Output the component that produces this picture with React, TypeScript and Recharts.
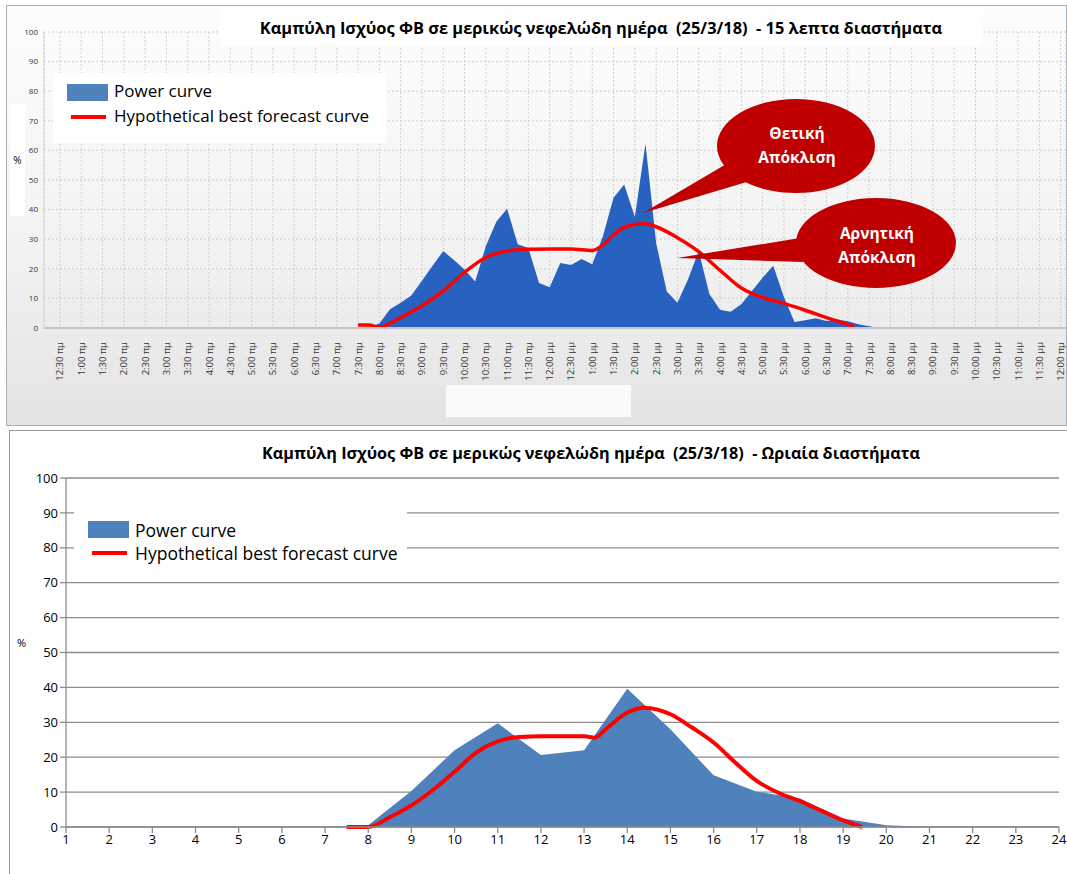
import React from "react";
import { Area, CartesianGrid, ComposedChart, Line, XAxis, YAxis } from "recharts";

const FONT = "'Open Sans', 'DejaVu Sans', sans-serif";

const TITLE_QUARTER = "Καμπύλη Ισχύος ΦΒ σε μερικώς νεφελώδη ημέρα  (25/3/18)  - 15 λεπτα διαστήματα";
const TITLE_HOURLY = "Καμπύλη Ισχύος ΦΒ σε μερικώς νεφελώδη ημέρα  (25/3/18)  - Ωριαία διαστήματα";
const POWER_NAME = "Power curve";
const FORECAST_NAME = "Hypothetical best forecast curve";
const POSITIVE_LINES = ["Θετική", "Απόκλιση"];
const NEGATIVE_LINES = ["Αρνητική", "Απόκλιση"];

// 15 minute chart (time in hours)
const quarterTimes = [
  7.5, 7.75, 8, 8.25, 8.5, 8.75, 9, 9.25, 9.5, 9.75, 10, 10.25, 10.5, 10.75, 11, 11.25, 11.5, 11.75,
  12, 12.25, 12.5, 12.75, 13, 13.25, 13.5, 13.75, 14, 14.25, 14.5, 14.75, 15, 15.25, 15.5, 15.75,
  16, 16.25, 16.5, 16.75, 17, 17.25, 17.5, 17.75, 18, 18.25, 18.5, 18.75, 19, 19.25, 19.5, 19.75,
];
const quarterPower = [
  0, 0.3, 1.5, 6.3, 8.5, 11, 16, 21, 26, 23, 19.8, 15.7, 27.6, 36, 40.3, 28.3, 27, 15.2,
  13.8, 22, 21.3, 23.3, 21.5, 31, 44, 48.5, 37.5, 62.3, 28.7, 12.3, 8.5, 16.5, 26, 11.5,
  6.2, 5.5, 8, 12.5, 17, 21, 10.5, 2, 2.6, 3.3, 2.4, 2.9, 2.3, 1.3, 0.6, 0,
];
const quarterForecastTimes = [
  7.5, 7.75, 8, 8.5, 9, 9.5, 10, 10.5, 11, 11.5, 12, 12.5, 13, 13.25, 13.5, 13.75, 14, 14.25,
  14.5, 15, 15.5, 16, 16.5, 17, 17.5, 18, 18.5, 19, 19.15,
];
const quarterForecast = [
  1, 1, 0.3, 3.5, 7.5, 12.5, 18.8, 23.8, 26, 26.6, 26.7, 26.7, 26.2, 28, 31.5, 34, 35, 35.2,
  34.2, 30.5, 25.8, 19.5, 13.5, 10.3, 8.3, 6, 3.5, 1.2, 0.5,
];
const halfHourLabels = [
  "12:30 πμ", "1:00 πμ", "1:30 πμ", "2:00 πμ", "2:30 πμ", "3:00 πμ", "3:30 πμ", "4:00 πμ",
  "4:30 πμ", "5:00 πμ", "5:30 πμ", "6:00 πμ", "6:30 πμ", "7:00 πμ", "7:30 πμ", "8:00 πμ",
  "8:30 πμ", "9:00 πμ", "9:30 πμ", "10:00 πμ", "10:30 πμ", "11:00 πμ", "11:30 πμ", "12:00 μμ",
  "12:30 μμ", "1:00 μμ", "1:30 μμ", "2:00 μμ", "2:30 μμ", "3:00 μμ", "3:30 μμ", "4:00 μμ",
  "4:30 μμ", "5:00 μμ", "5:30 μμ", "6:00 μμ", "6:30 μμ", "7:00 μμ", "7:30 μμ", "8:00 μμ",
  "8:30 μμ", "9:00 μμ", "9:30 μμ", "10:00 μμ", "10:30 μμ", "11:00 μμ", "11:30 μμ", "12:00 πμ",
];
const halfHourTicks = halfHourLabels.map((_, i) => (i + 1) * 0.5);

// hourly chart
const hours = [7, 8, 9, 10, 11, 12, 13, 14, 15, 16, 17, 18, 19, 20, 21];
const hourlyPower = [0, 0.5, 10.3, 22, 29.7, 20.6, 22, 39.6, 28, 14.8, 10.1, 8.2, 2.4, 0.5, 0];
const hourlyForecastTimes = [
  7.5, 7.75, 8, 8.5, 9, 9.5, 10, 10.5, 11, 11.5, 12, 12.5, 13, 13.25, 13.5, 14, 14.4, 15, 15.5,
  16, 16.5, 17, 17.5, 18, 18.5, 19, 19.44,
];
const hourlyForecast = [
  0, 0, 0, 2.8, 6.2, 10.6, 15.8, 21.3, 24.5, 25.8, 26, 26, 26, 25.6, 28, 32.8, 34.2, 32.3, 28.5,
  24.2, 18.5, 13.2, 9.8, 7.4, 4.6, 1.9, 0,
];
const hourTicks = [1, 2, 3, 4, 5, 6, 7, 8, 9, 10, 11, 12, 13, 14, 15, 16, 17, 18, 19, 20, 21, 22, 23, 24];
const percentTicks = [0, 10, 20, 30, 40, 50, 60, 70, 80, 90, 100];

type Row = { t: number; power?: number; forecast?: number };

function mergeRows(pt: number[], pv: number[], ft: number[], fv: number[]): Row[] {
  const map = new Map<number, Row>();
  pt.forEach((t, i) => map.set(t, { ...(map.get(t) || { t }), power: pv[i] }));
  ft.forEach((t, i) => map.set(t, { ...(map.get(t) || { t }), forecast: fv[i] }));
  return [...map.values()].sort((a, b) => a.t - b.t);
}

const quarterRows = mergeRows(quarterTimes, quarterPower, quarterForecastTimes, quarterForecast);
const hourlyRows = mergeRows(hours, hourlyPower, hourlyForecastTimes, hourlyForecast);

const RotatedTick = (props: any) => {
  const { x, y, payload } = props;
  const label = halfHourLabels[Math.round(payload.value * 2) - 1];
  return (
    <g transform={`translate(${x},${y + 6}) rotate(-90)`}>
      <text textAnchor="end" dy={3.5} fontSize={9.5} fill="#333" fontFamily={FONT}>
        {label}
      </text>
    </g>
  );
};

const LegendBox = ({ left, top, height, swatchTop, lineTop, textTop1, textTop2, size }: any) => (
  <div
    style={{
      position: "absolute",
      left,
      top,
      width: 333,
      height,
      background: "#fff",
      fontFamily: FONT,
      color: "#000",
    }}
  >
    <div style={{ position: "absolute", left: 14, top: swatchTop, width: 41, height: 17, background: "#4f81bd" }} />
    <div style={{ position: "absolute", left: 61, top: textTop1, fontSize: size, lineHeight: "20px", whiteSpace: "nowrap" }}>
      {POWER_NAME}
    </div>
    <div style={{ position: "absolute", left: 18, top: lineTop, width: 35, height: 4, background: "#ff0000" }} />
    <div style={{ position: "absolute", left: 61, top: textTop2, fontSize: size, lineHeight: "20px", whiteSpace: "nowrap" }}>
      {FORECAST_NAME}
    </div>
  </div>
);

function QuarterChart() {
  return (
    <div style={{ position: "absolute", left: 0, top: 0, width: 1067, height: 430 }}>
      <div
        style={{
          position: "absolute",
          left: 6,
          top: 5,
          width: 1059,
          height: 419,
          border: "1px solid #a7afb8",
          background: "linear-gradient(#fdfdfd, #f2f2f2 60%, #e3e3e3)",
        }}
      />
      <div style={{ position: "absolute", left: 0, top: 0 }}>
        <ComposedChart width={1067} height={430} data={quarterRows} margin={{ top: 32, right: 1, bottom: 52, left: 0 }}>
          <CartesianGrid stroke="#cfcfcf" strokeDasharray="2 2" />
          <XAxis
            dataKey="t"
            type="number"
            domain={[0.125, 24.125]}
            ticks={halfHourTicks}
            interval={0}
            tick={<RotatedTick />}
            tickLine={false}
            height={50}
            axisLine={{ stroke: "#c4c4c4", strokeWidth: 2 }}
          />
          <YAxis
            type="number"
            domain={[0, 100]}
            ticks={percentTicks}
            width={44}
            tickLine={false}
            tickSize={4}
            axisLine={{ stroke: "#d6d6d6" }}
            tick={{ fontSize: 8, fill: "#333", fontFamily: FONT }}
          />
          <Area
            dataKey="power"
            name={POWER_NAME}
            type="linear"
            fill="#2862c0"
            fillOpacity={1}
            stroke="none"
            connectNulls
            isAnimationActive={false}
          />
          <Line
            dataKey="forecast"
            name={FORECAST_NAME}
            type="monotone"
            stroke="#ff0000"
            strokeWidth={3.5}
            dot={false}
            connectNulls
            isAnimationActive={false}
          />
        </ComposedChart>
      </div>
      <LegendBox left={53} top={73} height={70} swatchTop={11} lineTop={42} textTop1={8} textTop2={33} size={17} />
      <div
        style={{
          position: "absolute",
          left: 220,
          top: 10,
          width: 762,
          height: 36,
          background: "#fff",
          fontFamily: FONT,
          fontWeight: 700,
          fontSize: 16.4,
          lineHeight: "36px",
          textAlign: "center",
          whiteSpace: "pre",
          color: "#000",
        }}
      >
        {TITLE_QUARTER}
      </div>
      <div
        style={{
          position: "absolute",
          left: 10,
          top: 104,
          width: 15,
          height: 112,
          background: "#fff",
          fontFamily: FONT,
          fontSize: 10,
          lineHeight: "112px",
          textAlign: "center",
        }}
      >
        %
      </div>
      <div style={{ position: "absolute", left: 446, top: 385, width: 185, height: 32, background: "#fafafa" }} />
      <svg width={1067} height={430} style={{ position: "absolute", left: 0, top: 0 }}>
        <polygon points="728,163 750,181 643,213" fill="#c00000" />
        <ellipse cx={796} cy={146} rx={79} ry={47} fill="#c00000" />
        <text x={797} y={139} textAnchor="middle" fill="#fff" fontFamily={FONT} fontWeight={700} fontSize={15.5}>
          {POSITIVE_LINES[0]}
        </text>
        <text x={797} y={163} textAnchor="middle" fill="#fff" fontFamily={FONT} fontWeight={700} fontSize={15.5}>
          {POSITIVE_LINES[1]}
        </text>
        <polygon points="800,238 803,262 677,258" fill="#c00000" />
        <ellipse cx={876} cy={243} rx={80} ry={45} fill="#c00000" />
        <text x={877} y={239} textAnchor="middle" fill="#fff" fontFamily={FONT} fontWeight={700} fontSize={15.5}>
          {NEGATIVE_LINES[0]}
        </text>
        <text x={877} y={263} textAnchor="middle" fill="#fff" fontFamily={FONT} fontWeight={700} fontSize={15.5}>
          {NEGATIVE_LINES[1]}
        </text>
      </svg>
    </div>
  );
}

function HourlyChart() {
  return (
    <div style={{ position: "absolute", left: 0, top: 430, width: 1067, height: 444 }}>
      <div
        style={{
          position: "absolute",
          left: 9,
          top: 0,
          width: 1070,
          height: 460,
          borderLeft: "1.5px solid #9a9a9a",
          borderTop: "1.5px solid #9a9a9a",
          background: "#fff",
        }}
      />
      <div style={{ position: "absolute", left: 0, top: 0 }}>
        <ComposedChart width={1067} height={444} data={hourlyRows} margin={{ top: 48, right: 8, bottom: 17, left: 0 }}>
          <CartesianGrid stroke="#8c8c8c" strokeWidth={1.3} vertical={false} />
          <XAxis
            dataKey="t"
            type="number"
            domain={[1, 24]}
            ticks={hourTicks}
            interval={0}
            height={30}
            tickSize={6}
            tickLine={{ stroke: "#8c8c8c", strokeWidth: 1.3 }}
            axisLine={{ stroke: "#8c8c8c", strokeWidth: 1.3 }}
            tick={{ fontSize: 13, fill: "#000", fontFamily: FONT }}
          />
          <YAxis
            type="number"
            domain={[0, 100]}
            ticks={percentTicks}
            width={66}
            tickSize={6}
            tickLine={{ stroke: "#8c8c8c", strokeWidth: 1.3 }}
            axisLine={{ stroke: "#8c8c8c", strokeWidth: 1.3 }}
            tick={{ fontSize: 13, fill: "#000", fontFamily: FONT }}
          />
          <Area
            dataKey="power"
            name={POWER_NAME}
            type="linear"
            fill="#4f81bd"
            fillOpacity={1}
            stroke="none"
            connectNulls
            isAnimationActive={false}
          />
          <Line
            dataKey="forecast"
            name={FORECAST_NAME}
            type="monotone"
            stroke="#ff0000"
            strokeWidth={4}
            dot={false}
            connectNulls
            isAnimationActive={false}
          />
        </ComposedChart>
      </div>
      <LegendBox left={74} top={75} height={67} swatchTop={16} lineTop={46} textTop1={15} textTop2={38} size={17.5} />
      <div
        style={{
          position: "absolute",
          left: 150,
          top: 11,
          width: 882,
          height: 24,
          fontFamily: FONT,
          fontWeight: 700,
          fontSize: 16.2,
          lineHeight: "24px",
          textAlign: "center",
          whiteSpace: "pre",
          color: "#000",
        }}
      >
        {TITLE_HOURLY}
      </div>
      <div style={{ position: "absolute", left: 17, top: 205, fontFamily: FONT, fontSize: 11, color: "#000" }}>%</div>
    </div>
  );
}

export default function App() {
  return (
    <div style={{ position: "absolute", left: 0, top: 0, width: 1067, height: 874, overflow: "hidden", background: "#fff" }}>
      <QuarterChart />
      <HourlyChart />
    </div>
  );
}
